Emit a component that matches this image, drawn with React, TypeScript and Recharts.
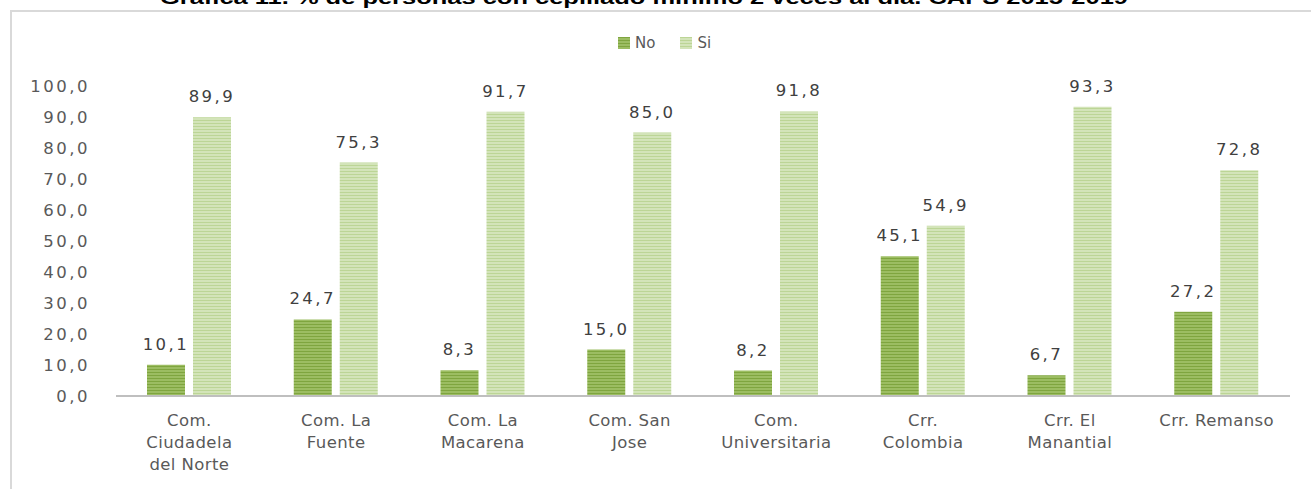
import React from "react";
import { Bar, BarChart, LabelList, XAxis, YAxis } from "recharts";

const categories = [
  "Com.\nCiudadela\ndel Norte",
  "Com. La\nFuente",
  "Com. La\nMacarena",
  "Com. San\nJose",
  "Com.\nUniversitaria",
  "Crr.\nColombia",
  "Crr. El\nManantial",
  "Crr. Remanso",
];
const noValues = [10.1, 24.7, 8.3, 15.0, 8.2, 45.1, 6.7, 27.2];
const siValues = [89.9, 75.3, 91.7, 85.0, 91.8, 54.9, 93.3, 72.8];
const yTicks = [0, 10, 20, 30, 40, 50, 60, 70, 80, 90, 100];

const TITLE = "Gráfica 11. % de personas con cepillado mínimo 2 veces al día. CAPS 2015-2019";
const FONT = "'DejaVu Sans', Verdana, sans-serif";
const TEXT = "#595959";

const data = categories.map((name, i) => ({ name, No: noValues[i], Si: siValues[i] }));

const fmt = (v: any) => Number(v).toFixed(1).replace(".", ",");

function CategoryTick({ x, y, payload }: any) {
  const lines = String(payload.value).split("\n");
  return (
    <text x={x} y={y + 22} textAnchor="middle" fill={TEXT} fontSize={16.5} fontFamily={FONT} letterSpacing={0.4}>
      {lines.map((l, i) => (
        <tspan key={i} x={x} dy={i === 0 ? 0 : 22}>
          {l}
        </tspan>
      ))}
    </text>
  );
}

function LegendBox() {
  const item = (label: string, fill: string, gap: number) => (
    <span style={{ display: "inline-flex", alignItems: "center", marginRight: gap }}>
      <span style={{ width: 12, height: 12, background: fill, marginRight: 5, display: "inline-block" }} />
      <span style={{ fontSize: 15, color: TEXT, fontFamily: FONT }}>{label}</span>
    </span>
  );
  return (
    <div style={{ position: "absolute", left: 618, top: 35, lineHeight: "16px", whiteSpace: "nowrap" }}>
      {item("No", "repeating-linear-gradient(#7fa53f 0 1px, #9cbd62 1px 3px)", 25)}
      {item("Si", "repeating-linear-gradient(#bcd596 0 1px, #d3e4b9 1px 3px)", 0)}
    </div>
  );
}

export default function App() {
  return (
    <div style={{ position: "absolute", left: 0, top: 0, width: 1311, height: 489, overflow: "hidden", background: "#fff" }}>
      <svg width={1311} height={20} style={{ position: "absolute", left: 0, top: 0 }}>
        <text x={160} y={4} textLength={968} lengthAdjust="spacingAndGlyphs" fontSize={19} fontWeight="bold"
          fontFamily="'Liberation Sans', Arial, sans-serif" fill="#000">
          {TITLE}
        </text>
      </svg>
      <div style={{ position: "absolute", left: 10, top: 10, width: 1320, height: 500, borderLeft: "2px solid #d9d9d9", borderTop: "2px solid #d9d9d9" }} />
      <LegendBox />
      <div style={{ position: "absolute", left: 0, top: 0 }}>
        <BarChart width={1311} height={489} data={data} margin={{ top: 86, right: 21, bottom: 63, left: 16 }} barSize={38} barGap={8}>
          <defs>
            <pattern id="stripeNo" width={4} height={3} patternUnits="userSpaceOnUse">
              <rect width={4} height={3} fill="#9cbd62" />
              <rect width={4} height={1} fill="#7fa53f" />
            </pattern>
            <pattern id="stripeSi" width={4} height={3} patternUnits="userSpaceOnUse">
              <rect width={4} height={3} fill="#d3e4b9" />
              <rect width={4} height={1} fill="#bcd596" />
            </pattern>
          </defs>
          <XAxis dataKey="name" height={30} interval={0} tickLine={false} axisLine={{ stroke: "#bfbfbf", strokeWidth: 2 }} tick={<CategoryTick />} />
          <YAxis domain={[0, 100]} ticks={yTicks} width={100} axisLine={false} tickLine={false} tickMargin={20}
            tickFormatter={fmt} tick={{ fill: TEXT, fontSize: 16.5, fontFamily: FONT, letterSpacing: 2.5 }} />
          <Bar dataKey="No" fill="url(#stripeNo)" isAnimationActive={false}>
            <LabelList dataKey="No" position="top" offset={15} formatter={fmt} fill="#404040" fontSize={16.5} fontFamily={FONT} letterSpacing={2.5} />
          </Bar>
          <Bar dataKey="Si" fill="url(#stripeSi)" isAnimationActive={false}>
            <LabelList dataKey="Si" position="top" offset={15} formatter={fmt} fill="#404040" fontSize={16.5} fontFamily={FONT} letterSpacing={2.5} />
          </Bar>
        </BarChart>
      </div>
    </div>
  );
}
